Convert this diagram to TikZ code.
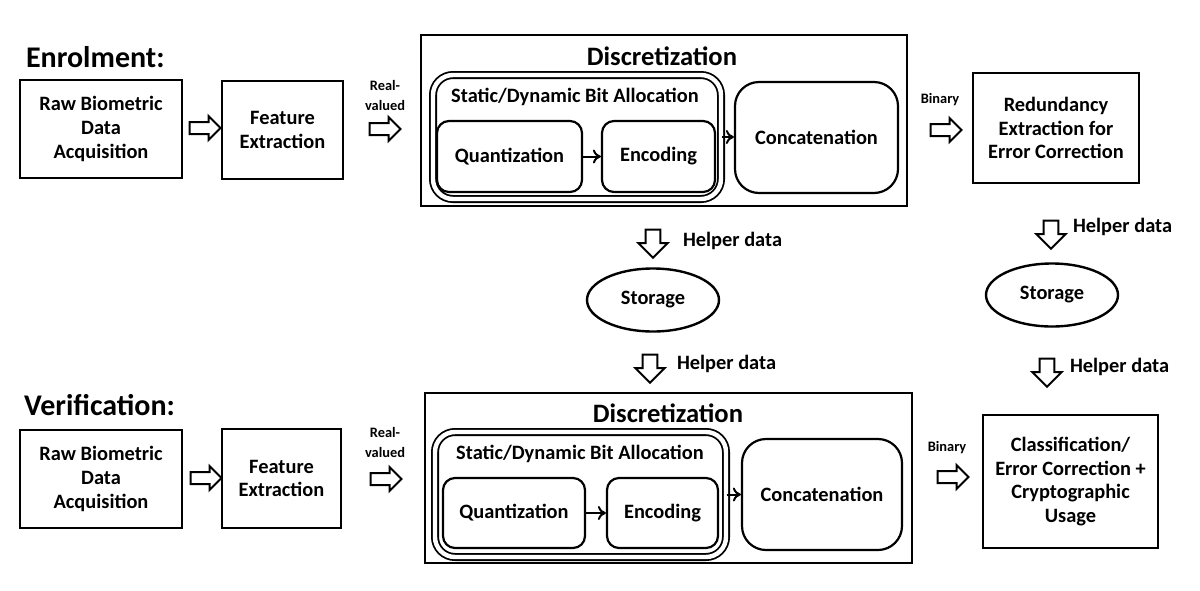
\documentclass[tikz,border=0pt]{standalone}
\usepackage{fontspec}
\setmainfont{Carlito}
\usetikzlibrary{shapes.geometric,shapes.arrows,arrows.meta}

\begin{document}
\begin{tikzpicture}[x=0.5pt,y=-0.5pt,>={To[length=4pt,width=7pt]},
  every node/.style={font=\bfseries\fontsize{10.2}{11.8}\selectfont, align=center},
  box/.style={draw, line width=1.4pt},
  frame/.style={draw, line width=1.4pt},
  alloc/.style={draw, double, double distance=2.2pt, line width=0.9pt, rounded corners=10pt},
  rbox/.style={draw, line width=1.1pt, rounded corners=6pt},
  cbox/.style={draw, line width=1.1pt, rounded corners=12pt},
  store/.style={draw, ellipse, line width=1.2pt, inner sep=0pt, minimum width=66pt, minimum height=31.5pt},
  blockarrow/.style={draw, shape=single arrow, line width=1pt, minimum height=15.5pt, minimum width=0pt, inner sep=2.5pt, single arrow head extend=3pt},
  downarrow/.style={draw, shape=single arrow, rotate=-90, line width=1pt, minimum height=14pt, minimum width=0pt, inner sep=3.2pt, single arrow head extend=3.6pt},
  heading/.style={font=\bfseries\fontsize{15}{17}\selectfont, anchor=west},
  title/.style={font=\bfseries\fontsize{13.3}{15}\selectfont},
  small/.style={font=\bfseries\fontsize{7.2}{10}\selectfont},
  helper/.style={anchor=west}]
\useasboundingbox (0,0) rectangle (1200,590);

\node[heading] (enrol) at (19,57) {Enrolment:};
\node[box, minimum width=81pt, minimum height=49pt] (raw1) at (101,129) {Raw Biometric\\Data\\Acquisition};
\node[blockarrow] (a1) at (202,128) {};
\node[box, minimum width=60.5pt, minimum height=49pt] (fe1) at (282.5,130) {Feature\\Extraction};
\node[small] (rv1) at (385,95) {Real-\\valued};
\node[blockarrow] (a2) at (382,129) {};
\node[frame, minimum width=243pt, minimum height=85.5pt] (disc1) at (664,120.5) {};
\node[title] (dt1) at (662,56) {Discretization};
\node[alloc, minimum width=144pt, minimum height=62pt] (sda1) at (577,137) {};
\node (sdl1) at (575,97) {Static/Dynamic Bit Allocation};
\node[rbox, minimum width=72.5pt, minimum height=35.5pt] (q1) at (509.5,156.5) {Quantization};
\node[rbox, minimum width=56.5pt, minimum height=35.5pt] (enc1) at (658.5,156.5) {Encoding};
\node[cbox, minimum width=81.5pt, minimum height=55.5pt] (cat1) at (816.5,137.5) {Concatenation};
\node[small] (bin1) at (940,100) {Binary};
\node[blockarrow] (a3) at (943,130) {};
\node[box, minimum width=83pt, minimum height=55pt] (red1) at (1056,128) {Redundancy\\Extraction for\\Error Correction};
\draw[->, line width=1pt] (q1) -- (enc1);
\draw[->, line width=1pt] (sda1.east) -- (cat1.west |- sda1.east);

\node[downarrow] (h1) at (653,240) {};
\node[helper] (hl1) at (676,241) {Helper data};
\node[store] (st1) at (653,300) {Storage};
\node[downarrow] (h2) at (650,365) {};
\node[helper] (hl2) at (670,364) {Helper data};
\node[downarrow] (h3) at (1051,231) {};
\node[helper] (hl3) at (1066,227) {Helper data};
\node[store] (st2) at (1052,295) {Storage};
\node[downarrow] (h4) at (1047,369) {};
\node[helper] (hl4) at (1063,367) {Helper data};

\node[heading] (verif) at (17,405) {Verification:};
\node[box, minimum width=81pt, minimum height=49pt] (raw2) at (101,479) {Raw Biometric\\Data\\Acquisition};
\node[blockarrow] (a4) at (203,478) {};
\node[box, minimum width=59.5pt, minimum height=49.5pt] (fe2) at (281.5,478.5) {Feature\\Extraction};
\node[small] (rv2) at (385,442) {Real-\\valued};
\node[blockarrow] (a5) at (383,479) {};
\node[frame, minimum width=243.5pt, minimum height=85pt] (disc2) at (668.5,478) {};
\node[title] (dt2) at (668,413) {Discretization};
\node[alloc, minimum width=145.5pt, minimum height=62.5pt] (sda2) at (580.5,494.5) {};
\node (sdl2) at (580,454) {Static/Dynamic Bit Allocation};
\node[rbox, minimum width=71pt, minimum height=35pt] (q2) at (514,513) {Quantization};
\node[rbox, minimum width=55.5pt, minimum height=35pt] (enc2) at (662.5,513) {Encoding};
\node[cbox, minimum width=80pt, minimum height=55.5pt] (cat2) at (822,494.5) {Concatenation};
\node[small] (bin2) at (947,448) {Binary};
\node[blockarrow] (a6) at (950,477) {};
\node[box, minimum width=87.5pt, minimum height=66.5pt] (cls2) at (1070.5,481.5) {Classification/\\Error Correction +\\Cryptographic\\Usage};
\draw[->, line width=1pt] (q2) -- (enc2);
\draw[->, line width=1pt] (sda2.east) -- (cat2.west |- sda2.east);
\end{tikzpicture}
\end{document}
